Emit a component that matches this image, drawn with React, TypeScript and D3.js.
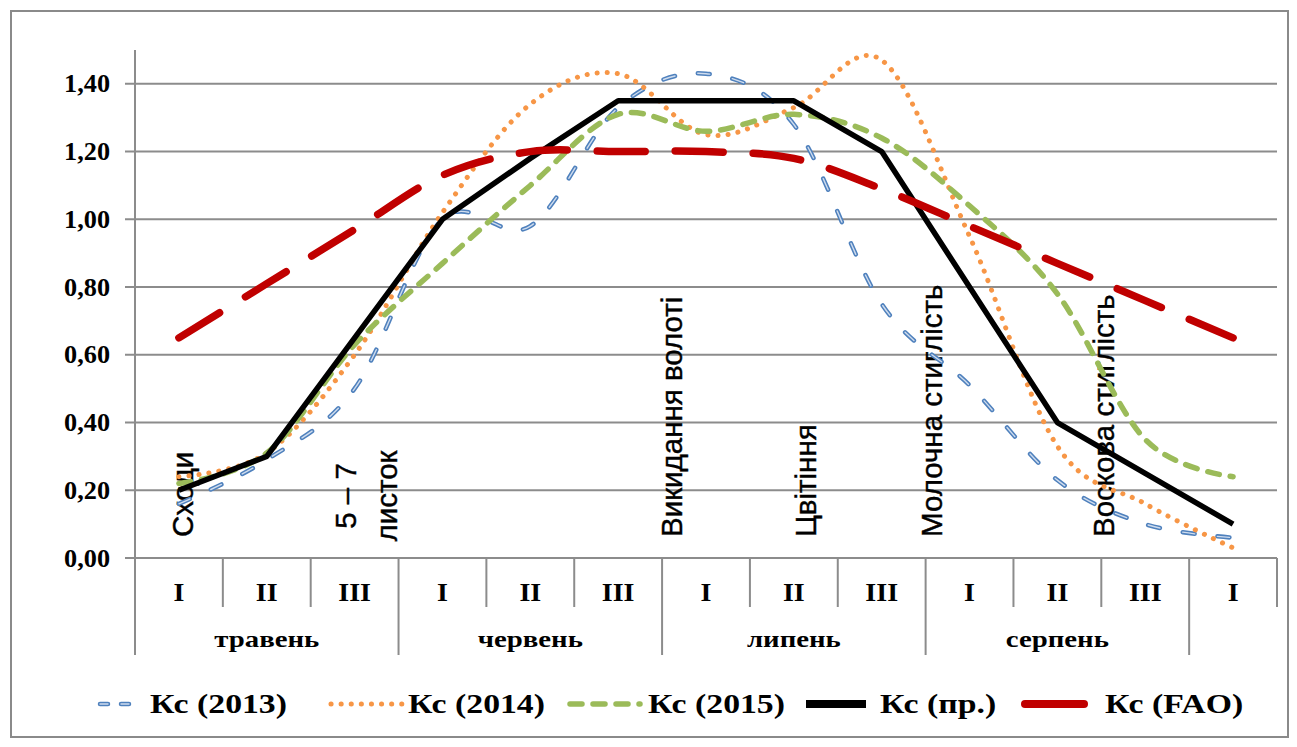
import React from 'react';
import * as d3 from 'd3';

const categories = ['I', 'II', 'III', 'I', 'II', 'III', 'I', 'II', 'III', 'I', 'II', 'III', 'I'];
const months = ['травень', 'червень', 'липень', 'серпень'];
const monthStart = [0, 3, 6, 9];
const yTicks = [0, 0.2, 0.4, 0.6, 0.8, 1.0, 1.2, 1.4];

const kc2013 = [0.16, 0.29, 0.5, 1.0, 0.98, 1.33, 1.43, 1.28, 0.75, 0.51, 0.23, 0.1, 0.06];
const kc2014 = [0.24, 0.31, 0.6, 1.02, 1.34, 1.43, 1.25, 1.33, 1.47, 0.95, 0.33, 0.16, 0.03];
const kc2015 = [0.22, 0.31, 0.63, 0.87, 1.1, 1.31, 1.26, 1.31, 1.24, 1.04, 0.78, 0.35, 0.24];
const kcPr = [0.2, 0.3, 0.65, 1.0, 1.18, 1.35, 1.35, 1.35, 1.2, 0.8, 0.4, 0.25, 0.1];
const kcFao = [0.65, 0.81, 0.97, 1.13, 1.2, 1.2, 1.2, 1.18, 1.09, 0.98, 0.87, 0.76, 0.65];

const seriesNames = ['Кс (2013)', 'Кс (2014)', 'Кс (2015)', 'Кс (пр.)', 'Кс (FAO)'];

// phenological phases: label and position in category units
const phaseLabels = ['Сходи', '5 – 7', 'листок', 'Викидання волоті', 'Цвітіння', 'Молочна стиглість', 'Воскова стиглість'];
const phaseAt = [0.16, 2.02, 2.48, 5.73, 7.25, 8.69, 10.64];

const W = 1297;
const H = 747;
const left = 135;
const right = 1277;
const top = 50;
const bottom = 558;

const serif = '"Liberation Serif", "Times New Roman", serif';
const sans = '"Liberation Sans", Arial, sans-serif';
const grid = '#8c8c8c';

type Style = {
  color: string;
  width: number;
  dash?: string;
  cap: 'round' | 'butt';
  smooth: boolean;
  inner?: string;
};

const styles: Style[] = [
  { color: '#4F81BD', width: 4.5, dash: '12 23', cap: 'round', smooth: true, inner: '#cfdcee' },
  { color: '#F79646', width: 5, dash: '0.1 10', cap: 'round', smooth: true },
  { color: '#9BBB59', width: 5.5, dash: '12 11', cap: 'round', smooth: true },
  { color: '#000000', width: 5.5, cap: 'butt', smooth: false },
  { color: '#C00000', width: 7.5, dash: '48 30', cap: 'round', smooth: true },
];

const seriesValues = [kc2013, kc2014, kc2015, kcPr, kcFao];

function SText(props: {
  x: number; y: number; sx?: number; size: number; anchor?: string; children: React.ReactNode; family?: string; weight?: string;
}) {
  const { x, y, sx = 1, size, anchor = 'middle', children, family = serif, weight = 'bold' } = props;
  return (
    <text
      transform={`translate(${x},${y}) scale(${sx},1)`}
      fontFamily={family}
      fontWeight={weight}
      fontSize={size}
      textAnchor={anchor}
      fill="#000"
    >
      {children}
    </text>
  );
}

export default function App() {
  const idx = categories.map((_, i) => i);
  const x = d3.scaleBand<number>().domain(idx).range([left, right]).padding(0);
  const bw = x.bandwidth();
  const cx = (i: number) => (x(i) as number) + bw / 2;
  const fx = (v: number) => left + bw / 2 + v * bw;
  const y = d3.scaleLinear().domain([0, 1.5]).range([bottom, top]);

  const boundaries = d3.range(categories.length + 1);
  const isMonthEdge = (b: number) => monthStart.includes(b) || b === 12;

  const legendSample = [
    [100, 136],
    [331, 402],
    [570, 640],
    [806, 866],
    [1025, 1084],
  ];
  const legendText = [150, 408, 648, 880, 1105];
  const legendY = 704;

  return (
    <svg
      width={W}
      height={H}
      style={{ position: 'absolute', left: 0, top: 0, background: '#fff' }}
    >
      <rect x={0} y={0} width={W} height={H} fill="#fff" />
      <rect x={11} y={11} width={1277} height={726} fill="none" stroke="#8a8a8a" strokeWidth={2} />

      {/* gridlines */}
      {yTicks.map((t) => (
        <line key={'g' + t} x1={left - 10} x2={right} y1={y(t)} y2={y(t)} stroke={grid} strokeWidth={2} />
      ))}
      <line x1={left} x2={left} y1={top} y2={bottom} stroke={grid} strokeWidth={2} />
      {yTicks.map((t) => (
        <SText key={'yl' + t} x={110} y={y(t) + 8.5} size={25} anchor="end" sx={1.05}>
          {d3.format('.2f')(t).replace('.', ',')}
        </SText>
      ))}

      {/* category axis */}
      {boundaries.map((b) => (
        <line
          key={'b' + b}
          x1={left + b * bw}
          x2={left + b * bw}
          y1={bottom}
          y2={isMonthEdge(b) && b !== 13 ? 655 : 607}
          stroke={grid}
          strokeWidth={2}
        />
      ))}
      {categories.map((c, i) => (
        <SText key={'c' + i} x={cx(i)} y={601} size={25} sx={1.12}>
          {c}
        </SText>
      ))}
      {months.map((m, i) => (
        <SText key={'m' + i} x={(x(monthStart[i]) as number) + (3 * bw) / 2} y={647} size={24} sx={1.2}>
          {m}
        </SText>
      ))}

      {/* phase annotations */}
      {phaseLabels.map((p, i) => {
        const mid = i === 1 || i === 2;
        return (
          <text
            key={'p' + i}
            transform={`translate(${fx(phaseAt[i])},${mid ? 496 : 537}) rotate(-90)`}
            fontFamily={sans}
            fontSize={29.5}
            textAnchor={mid ? 'middle' : 'start'}
            fill="#000"
            stroke="#000"
            strokeWidth={0.4}
          >
            {p}
          </text>
        );
      })}

      {/* series */}
      {seriesValues.map((vals, si) => {
        const st = styles[si];
        const gen = d3
          .line<number>()
          .x((_, i) => cx(i))
          .y((v) => y(v))
          .curve(st.smooth ? d3.curveCardinal.tension(0) : d3.curveLinear);
        const d = gen(vals) || '';
        return (
          <g key={'s' + si}>
            <path
              d={d}
              fill="none"
              stroke={st.color}
              strokeWidth={st.width}
              strokeDasharray={st.dash}
              strokeLinecap={st.cap}
              strokeLinejoin="round"
            />
            {st.inner && (
              <path
                d={d}
                fill="none"
                stroke={st.inner}
                strokeWidth={1.4}
                strokeDasharray={st.dash}
                strokeLinecap="round"
              />
            )}
          </g>
        );
      })}

      {/* legend */}
      {seriesNames.map((n, i) => {
        const st = styles[i];
        const [a, b] = legendSample[i];
        const lw = i >= 3 ? 8 : st.width;
        return (
          <g key={'l' + i}>
            <line
              x1={a}
              x2={b}
              y1={legendY}
              y2={legendY}
              stroke={st.color}
              strokeWidth={lw}
              strokeDasharray={i >= 3 ? undefined : i === 0 ? '8 13' : st.dash}
              strokeLinecap={i === 3 ? 'butt' : 'round'}
            />
            {i === 0 && (
              <line x1={a} x2={b} y1={legendY} y2={legendY} stroke={st.inner} strokeWidth={1.4} strokeDasharray="8 13" strokeLinecap="round" />
            )}
            <SText x={legendText[i]} y={legendY + 9} size={27} anchor="start" sx={1.25}>
              {n}
            </SText>
          </g>
        );
      })}
    </svg>
  );
}
